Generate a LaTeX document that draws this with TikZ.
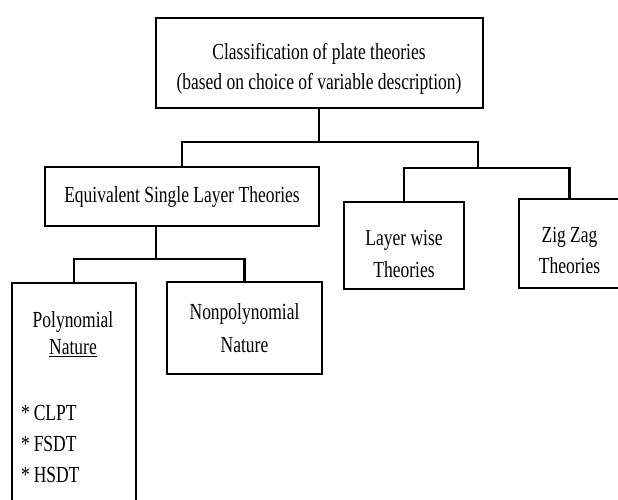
\documentclass[tikz,border=0pt]{standalone}
\usepackage{fontspec}
\setmainfont{Liberation Serif}[FakeStretch=0.76]
\usetikzlibrary{positioning,calc}
\newcommand{\padtop}[1]{\rule{0pt}{#1}}
\tikzset{
  tbox/.style={draw,line width=1.6pt,align=center,inner sep=0pt},
  link/.style={line width=2.2pt}
}

\begin{document}
\begin{tikzpicture}[x=1pt,y=-1pt,font=\fontsize{23}{31}\selectfont]
  \useasboundingbox (0,0) rectangle (618,499);
  \node[tbox,line width=2pt,minimum width=327pt,minimum height=90pt] (cls) at (319,63)
    {\padtop{27.5pt}Classification of plate theories\\[-1pt](based on choice of variable description)};
  \node[tbox,minimum width=274pt,minimum height=59pt] (esl) at (182,196.5)
    {Equivalent Single Layer Theories};
  \node[tbox,minimum width=120pt,minimum height=87pt] (layer) at (404,245.5)
    {\padtop{31.5pt}Layer wise\\[1pt]Theories};
  \node[tbox,minimum width=101pt,minimum height=89pt] (zig) at (569.5,243.5)
    {\padtop{30pt}Zig Zag\\Theories};
  \node[tbox,minimum width=124pt,minimum height=228pt] (poly) at (74,397) {};
  \node[align=center,inner sep=0pt] (polytxt) at (73,334)
    {Polynomial\\[-4pt]\underline{Nature}};
  \node[align=left,inner sep=0pt,anchor=west] (polylist) at (21,444)
    {*\,CLPT\\*\,FSDT\\*\,HSDT};
  \node[tbox,minimum width=155pt,minimum height=92pt] (nonpoly) at (244.5,328)
    {Nonpolynomial\\[2pt]Nature};
  % branch points
  \coordinate (b1) at (319,142);
  \coordinate (b2) at (478,168);
  \coordinate (b3) at (156,259);
  \draw[link] (cls.south) -- (b1);
  \draw[link] (esl.north) |- (b2 |- b1) -- (b2);
  \draw[link] (b2) -| (layer.north);
  \draw[link] (b2) -| (zig.north);
  \draw[link] (esl.south -| b3) -- (b3);
  \draw[link] (b3) -| (poly.north);
  \draw[link] (b3) -| (nonpoly.north);
\end{tikzpicture}
\end{document}
